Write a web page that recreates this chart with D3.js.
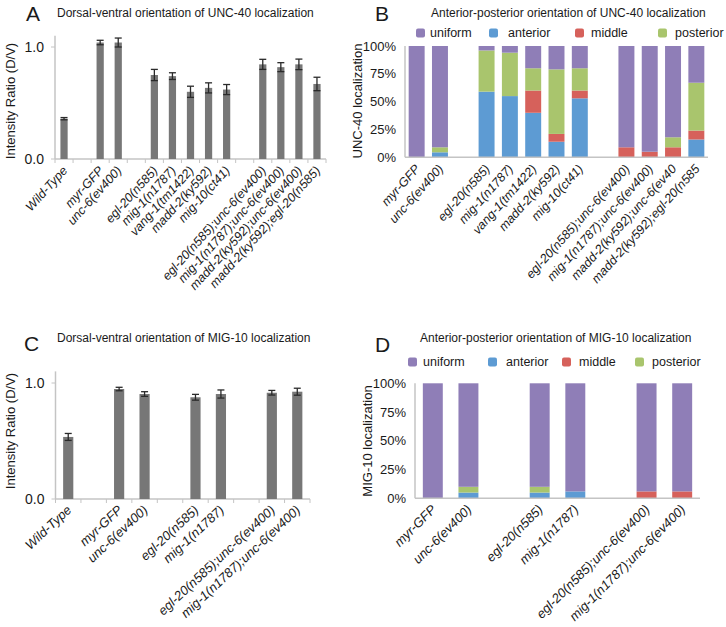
<!DOCTYPE html>
<html><head><meta charset="utf-8">
<script src="https://cdn.jsdelivr.net/npm/d3@7"></script>
<style>body{margin:0;background:#fff}svg{display:block}text{font-family:"Liberation Sans",Arial,sans-serif;fill:#1a1a1a}</style>
</head><body>
<script>
// ---------- DATA ----------
const catsA = ["Wild-Type","","myr-GFP","unc-6(ev400)","","egl-20(n585)","mig-1(n1787)","vang-1(tm1422)","madd-2(ky592)","mig-10(ct41)","","egl-20(n585);unc-6(ev400)","mig-1(n1787);unc-6(ev400)","madd-2(ky592);unc-6(ev400)","madd-2(ky592);egl-20(n585)"];
const valsA = [0.36,null,1.04,1.04,null,0.75,0.74,0.60,0.635,0.62,null,0.845,0.82,0.845,0.67];
const errA  = [0.01,null,0.02,0.04,null,0.05,0.03,0.05,0.045,0.045,null,0.045,0.04,0.047,0.06];

const catsC = ["Wild-Type","","myr-GFP","unc-6(ev400)","","egl-20(n585)","mig-1(n1787)","","egl-20(n585);unc-6(ev400)","mig-1(n1787);unc-6(ev400)"];
const valsC = [0.535,null,0.948,0.905,null,0.877,0.905,null,0.916,0.925];
const errC  = [0.03,null,0.015,0.02,null,0.025,0.035,null,0.02,0.03];

const yTicksDV = [0.0, 1.0];
const yTicksPct = [0, 25, 50, 75, 100];

const seriesKeys = ["anterior","middle","posterior","uniform"];
const legendOrder = ["uniform","anterior","middle","posterior"];

const catsB = ["myr-GFP","unc-6(ev400)","","egl-20(n585)","mig-1(n1787)","vang-1(tm1422)","madd-2(ky592)","mig-10(ct41)","","egl-20(n585);unc-6(ev400)","mig-1(n1787);unc-6(ev400)","madd-2(ky592);unc-6(ev40","madd-2(ky592);egl-20(n585"];
const anteriorB  = [0,4.5,null,59,55,40,14,53,null,0,0,0,16];
const middleB    = [0,0,null,0,0,20,7,7,null,9,5,9,8];
const posteriorB = [0,4.5,null,37,39,20,58,20,null,0,0,9,43];
const uniformB   = [100,91,null,4,6,20,21,20,null,91,95,82,33];

const catsD = ["myr-GFP","unc-6(ev400)","","egl-20(n585)","mig-1(n1787)","","egl-20(n585);unc-6(ev400)","mig-1(n1787);unc-6(ev400)"];
const anteriorD  = [0,5,null,5,6,null,0,0];
const middleD    = [0,0,null,0,0,null,6,6];
const posteriorD = [0,5,null,5,0,null,0,0];
const uniformD   = [100,90,null,90,94,null,94,94];

// ---------- STYLE ----------
const colors = {uniform:"#8f7eb7", anterior:"#5d9bd3", middle:"#d6615b", posterior:"#a9c56d"};
const axisCol = "#c4c4c4", barCol = "#777777", errCol = "#2a2a2a";

const svg = d3.select("body").append("svg").attr("width",726).attr("height",627);

function xAxisLabels(g, cats, x, y0, rot, fs){
  cats.forEach((c,i)=>{
    if(!c) return;
    const cx = x(i) + x.bandwidth()/2 + 4;
    g.append("text").attr("transform",`translate(${cx},${y0+12}) rotate(${rot})`)
      .attr("text-anchor","end").attr("font-size",fs).attr("font-style","italic").text(c);
  });
}

function dvPanel(cfg){
  const {cats, vals, errs, x0, x1, yBase, yTop, letter, title, lx, ly, tx, ty, ylx, yly, rot, fs} = cfg;
  const g = svg.append("g");
  const n = cats.length;
  const x = d3.scaleBand().domain(d3.range(n)).range([x0,x1]).paddingInner(0.6).paddingOuter(0.3);
  const y = d3.scaleLinear().domain([0,1.1]).range([yBase,yTop]);
  g.append("line").attr("x1",x0).attr("x2",x0).attr("y1",y(0)).attr("y2",y(1.1)).attr("stroke",axisCol).attr("stroke-width",1.5);
  g.append("line").attr("x1",x0).attr("x2",x1).attr("y1",y(0)).attr("y2",y(0)).attr("stroke",axisCol).attr("stroke-width",1.5);
  const step = x.step();
  d3.range(n+1).forEach(i=>{
    const xx = x0 + i*step;
    g.append("line").attr("x1",xx).attr("x2",xx).attr("y1",y(0)).attr("y2",y(0)+4).attr("stroke",axisCol).attr("stroke-width",1);
  });
  yTicksDV.forEach(t=>{
    g.append("line").attr("x1",x0-4).attr("x2",x0).attr("y1",y(t)).attr("y2",y(t)).attr("stroke",axisCol);
    g.append("text").attr("x",x0-11).attr("y",y(t)).attr("dy","0.35em").attr("text-anchor","end").attr("font-size",14).text(d3.format(".1f")(t));
  });
  vals.forEach((v,i)=>{
    if(v==null) return;
    g.append("rect").attr("x",x(i)).attr("width",x.bandwidth()).attr("y",y(v)).attr("height",y(0)-y(v)).attr("fill",barCol);
    const cx = x(i)+x.bandwidth()/2, e = errs[i];
    g.append("line").attr("x1",cx).attr("x2",cx).attr("y1",y(v+e)).attr("y2",y(v-e)).attr("stroke",errCol).attr("stroke-width",1.3);
    [v+e, v-e].forEach(k=>g.append("line").attr("x1",cx-3.5).attr("x2",cx+3.5).attr("y1",y(k)).attr("y2",y(k)).attr("stroke",errCol).attr("stroke-width",1.3));
  });
  xAxisLabels(g, cats, x, y(0), rot, fs);
  g.append("text").attr("transform",`translate(${ylx},${yly}) rotate(-90)`).attr("text-anchor","middle").attr("font-size",13).text("Intensity Ratio (D/V)");
  g.append("text").attr("x",lx).attr("y",ly).attr("font-size",21).text(letter);
  g.append("text").attr("x",tx).attr("y",ty).attr("font-size",12).text(title);
}

function apPanel(cfg){
  const {cats, series, x0, x1, yBase, yTop, pad, letter, title, lx, ly, tx, ty, ylab, ylx, yly, legY, legSq, legTx, rot, fs} = cfg;
  const g = svg.append("g");
  const n = cats.length;
  const x = d3.scaleBand().domain(d3.range(n)).range([x0,x1]).paddingInner(pad).paddingOuter(pad/2);
  const y = d3.scaleLinear().domain([0,100]).range([yBase,yTop]);
  const rows = cats.map((c,i)=>{const r={i}; seriesKeys.forEach(k=>r[k]=series[k][i]==null?0:series[k][i]); r.empty=series.uniform[i]==null; return r;});
  const stack = d3.stack().keys(seriesKeys)(rows);
  stack.forEach(layer=>{
    layer.forEach(d=>{
      if(d.data.empty) return;
      const h = y(d[0]) - y(d[1]);
      if(h<=0) return;
      g.append("rect").attr("x",x(d.data.i)).attr("width",x.bandwidth()).attr("y",y(d[1])).attr("height",h).attr("fill",colors[layer.key]);
    });
  });
  g.append("line").attr("x1",x0).attr("x2",x0).attr("y1",y(0)).attr("y2",y(100)).attr("stroke",axisCol).attr("stroke-width",1.5);
  g.append("line").attr("x1",x0).attr("x2",x1).attr("y1",y(0)).attr("y2",y(0)).attr("stroke",axisCol).attr("stroke-width",1.5);
  yTicksPct.forEach(t=>{
    g.append("text").attr("x",x0-9).attr("y",y(t)).attr("dy","0.35em").attr("text-anchor","end").attr("font-size",13).text(t+"%");
  });
  xAxisLabels(g, cats, x, y(0), rot, fs);
  g.append("text").attr("transform",`translate(${ylx},${yly}) rotate(-90)`).attr("text-anchor","middle").attr("font-size",13).text(ylab);
  g.append("text").attr("x",lx).attr("y",ly).attr("font-size",21).text(letter);
  g.append("text").attr("x",tx).attr("y",ty).attr("font-size",12).text(title);
  legendOrder.forEach((k,j)=>{
    g.append("rect").attr("x",legSq[j]).attr("y",legY-4.5).attr("width",9).attr("height",9).attr("rx",2).attr("fill",colors[k]);
    g.append("text").attr("x",legTx[j]).attr("y",legY).attr("dy","0.35em").attr("font-size",12.5).text(k);
  });
}

dvPanel({cats:catsA, vals:valsA, errs:errA, x0:55, x1:326, yBase:159, yTop:159-112*1.1, rot:-48, fs:12.5,
  letter:"A", title:"Dorsal-ventral orientation of UNC-40 localization", lx:26, ly:21, tx:57, ty:17, ylx:15, yly:101});
dvPanel({cats:catsC, vals:valsC, errs:errC, x0:55.5, x1:310, yBase:499, yTop:499-116*1.1, rot:-43, fs:13,
  letter:"C", title:"Dorsal-ventral orientation of MIG-10 localization", lx:24, ly:351, tx:57, ty:342, ylx:15, yly:431});
apPanel({cats:catsB, series:{anterior:anteriorB,middle:middleB,posterior:posteriorB,uniform:uniformB},
  x0:405, x1:708, yBase:157.3, yTop:46, pad:0.315, rot:-48, fs:12.5,
  letter:"B", title:"Anterior-posterior orientation of UNC-40 localization", lx:375, ly:21, tx:431, ty:17,
  ylab:"UNC-40 localization", ylx:362, yly:101, legY:33, legSq:[416,489,575,658], legTx:[430,508,591,675]});
apPanel({cats:catsD, series:{anterior:anteriorD,middle:middleD,posterior:posteriorD,uniform:uniformD},
  x0:415, x1:700, yBase:498.3, yTop:383.3, pad:0.44, rot:-45, fs:13,
  letter:"D", title:"Anterior-posterior orientation of MIG-10 localization", lx:375, ly:352, tx:420, ty:342,
  ylab:"MIG-10 localization", ylx:372, yly:441, legY:362, legSq:[408,488,562,635], legTx:[423,506,579,652]});
</script>
</body></html>
